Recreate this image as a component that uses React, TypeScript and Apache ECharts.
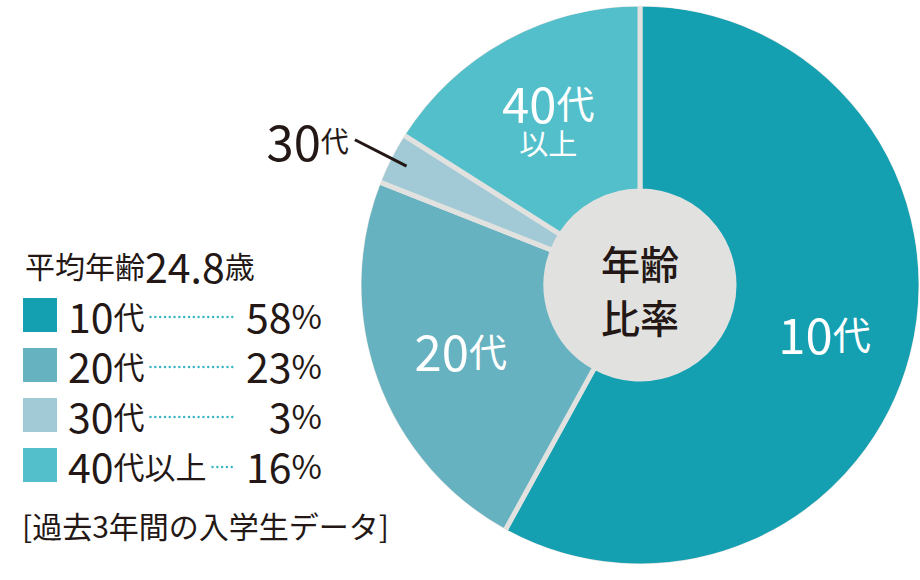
import React, { useEffect, useRef } from 'react';
import * as echarts from 'echarts';

// 入学生の年齢比率
const categories = ['10代', '20代', '30代', '40代以上'];
const shares = [58, 23, 3, 16];
const colors = ['#14a0b1', '#67b2c1', '#a2cad6', '#53bfca'];
const averageLabel = '平均年齢';
const averageAge = '24.8';
const averageUnit = '歳';
const centerTitle = ['年齢', '比率'];
const note = '[過去3年間の入学生データ]';

const FONT = '"Noto Sans CJK JP", "Noto Sans", sans-serif';
const INK = '#231815';
const GAP = '#e1e2e0';
const DOT = '#35b4c4';

// "40代以上" -> ["40", "代以上"]
const splitName = (name: string) => {
  const m = name.match(/^(\d+)(.*)$/);
  return m ? [m[1], m[2]] : [name, ''];
};

const measure = (text: string, size: number) => {
  const ctx = document.createElement('canvas').getContext('2d');
  if (!ctx) return text.length * size;
  ctx.font = `${size}px ${FONT}`;
  return ctx.measureText(text).width;
};

const App: React.FC = () => {
  const chartRef = useRef<HTMLDivElement>(null);

  useEffect(() => {
    document.body.style.margin = '0';
    if (!chartRef.current) return;

    const chart = echarts.init(chartRef.current, null, { renderer: 'svg' });

    // 凡例
    const legendRich = {
      n: { fontSize: 41, fontFamily: FONT, fill: INK, lineHeight: 40 },
      d: { fontSize: 31, fontFamily: FONT, fill: INK, lineHeight: 40 },
      p: { fontSize: 33, fontFamily: FONT, fill: INK, lineHeight: 40 },
    };
    const legend = categories.flatMap((name, i) => {
      const y = 315 + i * 50;
      const [num, rest] = splitName(name);
      const nameEnd = 68 + measure(num, 41) + measure(rest, 31);
      return [
        {
          type: 'rect',
          shape: { x: 23, y: y - 17, width: 34, height: 34 },
          style: { fill: colors[i] },
        },
        {
          type: 'text',
          x: 68,
          y,
          style: {
            text: `{n|${num}}{d|${rest}}`,
            rich: legendRich,
            verticalAlign: 'middle',
          },
        },
        {
          type: 'line',
          shape: { x1: nameEnd + 6, y1: y + 2, x2: 233, y2: y + 2 },
          style: { stroke: DOT, lineWidth: 2.4, lineDash: [0.01, 4.8], lineCap: 'round' },
        },
        {
          type: 'text',
          x: 322,
          y,
          style: {
            text: `{n|${shares[i]}}{p|%}`,
            rich: legendRich,
            align: 'right',
            verticalAlign: 'middle',
          },
        },
      ];
    });

    const sliceLabel = (p: any) => {
      const [num, rest] = splitName(p.name);
      const head = rest.slice(0, 1);
      const tail = rest.slice(1);
      return `{n|${num}}{d|${head}}` + (tail ? `\n{s|${tail}}` : '');
    };

    const option = {
      animation: false,
      textStyle: { fontFamily: FONT },
      series: [
        {
          // 色面と区切り線
          type: 'pie',
          z: 2,
          center: [640, 285],
          radius: [94, 281],
          startAngle: 90,
          clockwise: true,
          silent: true,
          emphasis: { disabled: true },
          itemStyle: { borderColor: GAP, borderWidth: 5 },
          label: {
            show: true,
            position: 'inside',
            formatter: sliceLabel,
            color: '#fff',
            rich: {
              n: { fontSize: 49, fontFamily: FONT, color: '#fff', lineHeight: 48 },
              d: { fontSize: 38, fontFamily: FONT, color: '#fff', lineHeight: 48 },
              s: { fontSize: 29, fontFamily: FONT, color: '#fff', lineHeight: 34 },
            },
          },
          labelLine: { show: false },
          data: categories.map((name, i) => ({
            name,
            value: shares[i],
            itemStyle: { color: colors[i] },
            label: { show: i !== 2 },
          })),
        },
        {
          // 外側ラベル(30代)
          type: 'pie',
          z: 200,
          center: [640, 285],
          radius: [94, 262],
          startAngle: 90,
          clockwise: true,
          silent: true,
          emphasis: { disabled: true },
          itemStyle: { color: 'rgba(0,0,0,0)', borderWidth: 0 },
          label: { show: false },
          labelLine: { show: false },
          data: categories.map((name, i) => ({
            name,
            value: shares[i],
            ...(i === 2
              ? {
                  label: {
                    show: true,
                    position: 'outside',
                    formatter: sliceLabel,
                    color: INK,
                    distanceToLabelLine: 6,
                    rich: {
                      n: { fontSize: 49, fontFamily: FONT, color: INK },
                      d: { fontSize: 28, fontFamily: FONT, color: INK },
                    },
                  },
                  labelLine: {
                    show: true,
                    length: 58,
                    length2: 0,
                    lineStyle: { color: INK, width: 3 },
                  },
                }
              : {}),
          })),
        },
      ],
      graphic: [
        {
          // 外周の区切り線を隠す
          type: 'ring',
          z: 50,
          shape: { cx: 640, cy: 285, r: 300, r0: 279 },
          style: { fill: '#fff' },
        },
        {
          type: 'group',
          z: 100,
          children: [
            {
              type: 'circle',
              shape: { cx: 640, cy: 287, r: 95 },
              style: { fill: GAP },
            },
            {
              type: 'text',
              x: 640,
              y: 289,
              style: {
                text: centerTitle.join('\n'),
                font: `500 39px ${FONT}`,
                fill: INK,
                lineHeight: 54,
                align: 'center',
                verticalAlign: 'middle',
              },
            },
          ],
        },
        {
          type: 'text',
          x: 25,
          y: 265,
          style: {
            text: `{a|${averageLabel}}{b|${averageAge}}{a|${averageUnit}}`,
            verticalAlign: 'middle',
            rich: {
              a: { fontSize: 30, fontFamily: FONT, fill: INK },
              b: { fontSize: 41, fontFamily: FONT, fill: INK },
            },
          },
        },
        ...legend,
        {
          type: 'text',
          x: 22,
          y: 525,
          style: {
            text: note,
            font: `30px ${FONT}`,
            fill: INK,
            verticalAlign: 'middle',
          },
        },
      ],
    };

    chart.setOption(option as any);

    const handleResize = () => chart.resize();
    window.addEventListener('resize', handleResize);
    return () => {
      window.removeEventListener('resize', handleResize);
      chart.dispose();
    };
  }, []);

  return <div ref={chartRef} style={{ width: 920, height: 580 }} />;
};

export default App;
